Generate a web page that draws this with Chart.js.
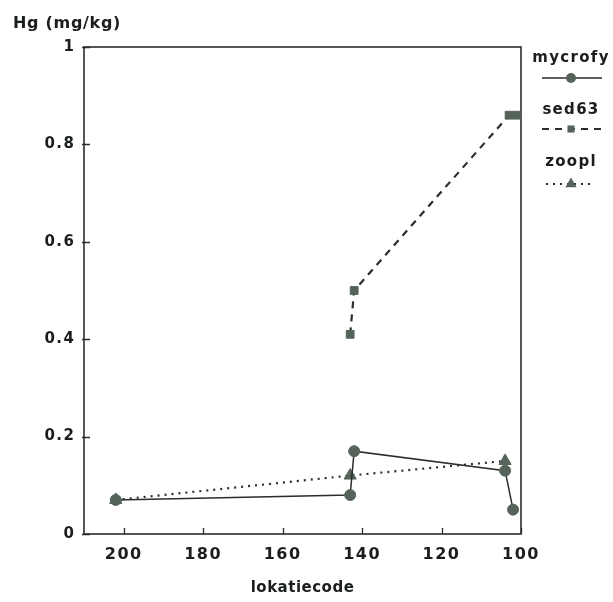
<!DOCTYPE html>
<html>
<head>
<meta charset="utf-8">
<style>
  html, body { margin: 0; padding: 0; background: #ffffff; }
  #wrap { width: 613px; height: 602px; }
</style>
<script src="https://cdn.jsdelivr.net/npm/chart.js@4/dist/chart.umd.min.js"></script>
</head>
<body>
<div id="wrap"><canvas id="c" width="613" height="602"></canvas></div>
<script>
// Mercury content per location code
const mycrofyX = [202, 143, 142, 104, 102];
const mycrofyY = [0.07, 0.08, 0.17, 0.13, 0.05];
const sed63X = [143, 142, 103, 101];
const sed63Y = [0.41, 0.50, 0.86, 0.86];
const zooplX = [202, 143, 104];
const zooplY = [0.07, 0.12, 0.15];

const seriesNames = ['mycrofy', 'sed63', 'zoopl'];
const xTicks = [200, 180, 160, 140, 120, 100];
const yTicks = [0, 0.2, 0.4, 0.6, 0.8, 1];
const xTitle = 'lokatiecode';
const yTitle = 'Hg (mg/kg)';

const INK = '#1b1f1c';
const LINE = '#2a2e2b';
const MARK = '#56635a';
const FONT = '"DejaVu Sans", Verdana, sans-serif';

function pts(xs, ys) { return xs.map((x, i) => ({ x: x, y: ys[i] })); }

// marker drawing for the legend samples
function drawMarker(ctx, style, x, y, r) {
  ctx.beginPath();
  if (style === 'circle') {
    ctx.arc(x, y, r, 0, Math.PI * 2);
  } else if (style === 'rect') {
    const s = r * Math.SQRT1_2;
    ctx.rect(x - s, y - s, 2 * s, 2 * s);
  } else if (style === 'triangle') {
    ctx.moveTo(x, y - r);
    ctx.lineTo(x + r * 0.866, y + r * 0.5);
    ctx.lineTo(x - r * 0.866, y + r * 0.5);
    ctx.closePath();
  }
  ctx.fill();
}

const framePlugin = {
  id: 'frame',
  beforeDraw(chart) {
    // spacing used by the axis title (drawn before the datasets)
    chart.ctx.letterSpacing = '0.5px';
  },
  beforeDatasetsDraw(chart) {
    const { ctx, chartArea: a, scales } = chart;
    ctx.save();
    ctx.letterSpacing = '0px';
    ctx.strokeStyle = LINE;
    ctx.lineWidth = 1.6;
    ctx.strokeRect(a.left, a.top, a.right - a.left, a.bottom - a.top);
    ctx.lineWidth = 1.3;
    ctx.beginPath();
    scales.x.ticks.forEach(t => {
      const px = Math.round(scales.x.getPixelForValue(t.value)) + 0.5;
      ctx.moveTo(px, a.bottom);
      ctx.lineTo(px, a.bottom - 6);
    });
    scales.y.ticks.forEach(t => {
      const py = Math.round(scales.y.getPixelForValue(t.value)) + 0.5;
      ctx.moveTo(a.left - 2, py);
      ctx.lineTo(a.left + 6, py);
    });
    ctx.stroke();
    ctx.restore();
    // spacing used by the tick labels (drawn after the datasets)
    ctx.letterSpacing = '1.5px';
  },
  afterDraw(chart) {
    const ctx = chart.ctx;
    ctx.save();
    ctx.fillStyle = INK;
    ctx.font = 'bold 16px ' + FONT;
    ctx.letterSpacing = '0.7px';
    ctx.textAlign = 'left';
    ctx.textBaseline = 'alphabetic';
    ctx.fillText(yTitle, 13, 28);

    // legend: name above a line sample with its marker
    const textY = [58, 110, 162];
    const sampleY = [78, 129, 184];
    const sampleX = [[542, 602], [542, 602], [546, 595]];
    chart.data.datasets.forEach((ds, i) => {
      ctx.fillStyle = INK;
      ctx.font = 'bold 15px ' + FONT;
      ctx.letterSpacing = '1.3px';
      ctx.textAlign = 'center';
      ctx.textBaseline = 'middle';
      ctx.fillText(ds.label, 571, textY[i]);
      ctx.letterSpacing = '0px';
      ctx.strokeStyle = ds.borderColor;
      ctx.lineWidth = ds.borderWidth;
      ctx.setLineDash(ds.borderDash || []);
      ctx.beginPath();
      ctx.moveTo(sampleX[i][0], sampleY[i]);
      ctx.lineTo(sampleX[i][1], sampleY[i]);
      ctx.stroke();
      ctx.setLineDash([]);
      ctx.fillStyle = ds.pointBackgroundColor;
      drawMarker(ctx, ds.pointStyle, 571, sampleY[i], ds.pointStyle === 'triangle' ? 6.5 : 5);
    });
    ctx.restore();
    ctx.letterSpacing = '0px';
  }
};

new Chart(document.getElementById('c'), {
  type: 'scatter',
  data: {
    datasets: [
      {
        label: seriesNames[0],
        data: pts(mycrofyX, mycrofyY),
        showLine: true,
        borderColor: LINE,
        borderWidth: 1.5,
        pointStyle: 'circle',
        pointRadius: 5.5,
        pointBackgroundColor: MARK,
        pointBorderColor: MARK,
        pointBorderWidth: 1
      },
      {
        label: seriesNames[1],
        data: pts(sed63X, sed63Y),
        showLine: true,
        borderColor: LINE,
        borderWidth: 2.2,
        borderDash: [7, 6],
        pointStyle: 'rect',
        pointRadius: 5.5,
        pointBackgroundColor: MARK,
        pointBorderColor: MARK,
        pointBorderWidth: 1
      },
      {
        label: seriesNames[2],
        data: pts(zooplX, zooplY),
        showLine: true,
        borderColor: LINE,
        borderWidth: 2.2,
        borderDash: [2, 5],
        pointStyle: 'triangle',
        pointRadius: 7,
        pointBackgroundColor: MARK,
        pointBorderColor: MARK,
        pointBorderWidth: 1
      }
    ]
  },
  options: {
    responsive: false,
    animation: false,
    devicePixelRatio: 1,
    layout: { padding: { left: 0, top: 47, right: 92, bottom: 0 } },
    plugins: { legend: { display: false }, tooltip: { enabled: false } },
    scales: {
      x: {
        type: 'linear',
        min: 100,
        max: 210,
        reverse: true,
        grid: { display: false, drawTicks: false, tickLength: 0 },
        border: { display: false },
        afterBuildTicks: s => { s.ticks = xTicks.map(v => ({ value: v })); },
        afterFit: s => { s.height = 68; },
        ticks: {
          font: { family: FONT, size: 16, weight: 'bold' },
          color: INK,
          padding: 11,
          z: 1,
          maxRotation: 0,
          autoSkip: false,
          callback: v => String(v)
        },
        title: {
          display: true,
          text: xTitle,
          color: INK,
          font: { family: FONT, size: 15, weight: 'bold' },
          padding: { top: 0, bottom: 5 }
        }
      },
      y: {
        type: 'linear',
        min: 0,
        max: 1,
        grid: { display: false, drawTicks: false, tickLength: 0 },
        border: { display: false },
        afterBuildTicks: s => { s.ticks = yTicks.map(v => ({ value: v })); },
        afterFit: s => { s.width = 84; },
        ticks: {
          font: { family: FONT, size: 15, weight: 'bold' },
          color: INK,
          padding: 8.5,
          z: 1,
          autoSkip: false,
          callback: v => String(v)
        }
      }
    }
  },
  plugins: [framePlugin]
});
</script>
</body>
</html>
